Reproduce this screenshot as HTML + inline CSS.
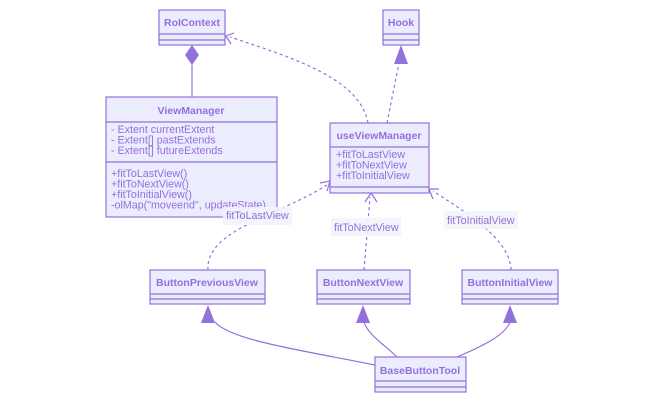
<!DOCTYPE html>
<html><head><meta charset="utf-8"><style>
body{margin:0;background:#fff;}
svg{display:block;font-family:"Liberation Sans",Arial,sans-serif;}
.b{fill:#ECECFF;stroke:#9370DB;stroke-width:1.2;}
.l{stroke:#9370DB;stroke-width:1.2;fill:none;}
.d{stroke:#9370DB;stroke-width:1.2;fill:none;stroke-dasharray:3,3;}
.t{fill:#9370DB;font-size:10.7px;}
.h{fill:#9370DB;font-size:10.5px;font-weight:bold;}
.lb{fill:#F3F3FB;fill-opacity:0.9;}
</style></head><body>
<svg width="665" height="403" viewBox="0 0 665 403">
<!-- connectors -->
<path class="l" d="M192,65 L192,97"/>
<polygon points="192,45 199,55 192,65 185,55" fill="#9370DB"/>
<path class="d" d="M368,123 C360,80 300,60 230,37"/>
<path class="l" d="M234,33 L226,36 L231,44"/>
<path class="d" d="M387,123 L399,63"/>
<polygon points="401,45 408,64 394,64" fill="#9370DB"/>
<path class="d" d="M208,270 C205,230 280,215 327,185"/>
<path class="l" d="M320,183 L330,181 L327,191"/>
<path class="d" d="M364,270 L370,197"/>
<path class="l" d="M365,202 L371,193 L377,202"/>
<path class="d" d="M511,270 C510,240 470,215 433,191"/>
<path class="l" d="M433,199 L429,189 L439,189"/>
<path class="l" d="M375,365 C300,350 230,340 215,322"/>
<polygon points="208,305 215,323 201,323" fill="#9370DB"/>
<path class="l" d="M397,357 C385,345 368,335 364,322"/>
<polygon points="363,305 370,323 356,323" fill="#9370DB"/>
<path class="l" d="M457,357 C485,345 505,335 510,322"/>
<polygon points="510,305 517,323 503,323" fill="#9370DB"/>
<!-- RoIContext -->
<rect class="b" x="159" y="10" width="66" height="35"/>
<path class="l" d="M159,34H225M159,40H225"/>
<text class="h" x="192" y="26" text-anchor="middle">RoIContext</text>
<!-- Hook -->
<rect class="b" x="383" y="10" width="36" height="35"/>
<path class="l" d="M383,34H419M383,40H419"/>
<text class="h" x="401" y="26" text-anchor="middle">Hook</text>
<!-- ViewManager -->
<rect class="b" x="106" y="97" width="171" height="120"/>
<path class="l" d="M106,122H277M106,162H277"/>
<text class="h" x="191" y="114" text-anchor="middle">ViewManager</text>
<text class="t" x="111" y="133">- Extent currentExtent</text>
<text class="t" x="111" y="143.5">- Extent[] pastExtends</text>
<text class="t" x="111" y="154">- Extent[] futureExtends</text>
<text class="t" x="111" y="177">+fitToLastView()</text>
<text class="t" x="111" y="187.5">+fitToNextView()</text>
<text class="t" x="111" y="198">+fitToInitialView()</text>
<text class="t" x="111" y="208.5">-olMap("moveend", updateState)</text>
<!-- useViewManager -->
<rect class="b" x="330" y="123" width="99" height="70"/>
<path class="l" d="M330,147H429M330,187H429"/>
<text class="h" x="379" y="139" text-anchor="middle">useViewManager</text>
<text class="t" x="336" y="158">+fitToLastView</text>
<text class="t" x="336" y="168.5">+fitToNextView</text>
<text class="t" x="336" y="179">+fitToInitialView</text>
<!-- buttons -->
<rect class="b" x="150" y="270" width="115" height="34"/>
<path class="l" d="M150,294H265M150,299H265"/>
<text class="h" x="207" y="286" text-anchor="middle">ButtonPreviousView</text>
<rect class="b" x="317" y="270" width="93" height="34"/>
<path class="l" d="M317,294H410M317,299H410"/>
<text class="h" x="363" y="286" text-anchor="middle">ButtonNextView</text>
<rect class="b" x="462" y="270" width="96" height="34"/>
<path class="l" d="M462,294H558M462,299H558"/>
<text class="h" x="510" y="286" text-anchor="middle">ButtonInitialView</text>
<rect class="b" x="375" y="357" width="91" height="35"/>
<path class="l" d="M375,381H466M375,387H466"/>
<text class="h" x="420" y="374" text-anchor="middle">BaseButtonTool</text>
<!-- labels -->
<rect class="lb" x="223" y="207" width="69" height="18"/><text class="t" x="226" y="219">fitToLastView</text>
<rect class="lb" x="331" y="218" width="70" height="18"/><text class="t" x="334" y="231">fitToNextView</text>
<rect class="lb" x="444" y="211" width="74" height="18"/><text class="t" x="447" y="224">fitToInitialView</text>
</svg>
</body></html>
